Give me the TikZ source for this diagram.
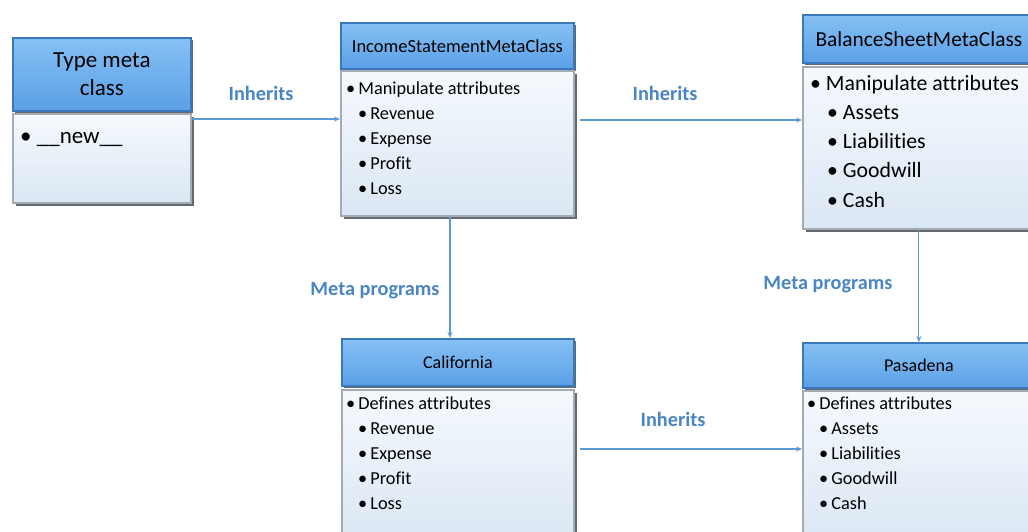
\documentclass[tikz,border=0pt]{standalone}
\usepackage{fontspec}
\setmainfont{Carlito}[Ligatures=NoCommon]
\usetikzlibrary{arrows.meta,shadows,calc}
\definecolor{hdrtop}{HTML}{86C0F4}
\definecolor{hdrbot}{HTML}{5AA0E6}
\definecolor{hdrline}{HTML}{3A78B9}
\definecolor{bodytop}{HTML}{F5F9FD}
\definecolor{bodybot}{HTML}{DBE7F4}
\definecolor{bodyline}{HTML}{A3ABB4}
\definecolor{arrcol}{HTML}{5B9BD5}
\definecolor{lblcol}{HTML}{4A86C4}
\definecolor{shadcol}{HTML}{55595E}
\tikzset{
  hdr/.style={draw=hdrline, line width=1.8pt, top color=hdrtop, bottom color=hdrbot,
    anchor=north west, inner sep=0pt, align=center, text=black,
    drop shadow={shadow xshift=2.5pt, shadow yshift=-2.5pt, fill=shadcol, opacity=0.9}},
  bodybox/.style={draw=bodyline, line width=1.8pt, top color=bodytop, bottom color=bodybot,
    anchor=north west, inner sep=0pt,
    drop shadow={shadow xshift=3pt, shadow yshift=-3pt, fill=shadcol, opacity=0.9}},
  bodytext/.style={anchor=north west, inner sep=0pt, align=left, text=black},
  arr/.style={draw=arrcol, line width=1.1pt, -{Stealth[length=6pt,width=5pt]}},
  lbl/.style={text=lblcol, font=\fontsize{20.3}{22}\selectfont\bfseries, inner sep=0pt}
}
\begin{document}
\begin{tikzpicture}[x=1pt,y=-1pt]
\useasboundingbox (0,0) rectangle (1028,531);
\fill[white] (0,0) rectangle (1028,531);

% Type meta class
\node[hdr, minimum width=178pt, minimum height=73pt, font=\fontsize{23}{28}\selectfont] (thdr) at (12,37) {Type meta\\class};
\node[bodybox, minimum width=178pt, minimum height=89pt] (tbody) at (12,113) {};
\node[bodytext, font=\fontsize{23}{28}\selectfont] (ttxt) at ($(tbody.north west)+(8,19)$) {•\ \_\_new\_\_};

% IncomeStatementMetaClass
\node[hdr, minimum width=233pt, minimum height=46pt, font=\fontsize{18.5}{22}\selectfont] (ihdr) at (340,22) {IncomeStatementMetaClass};
\node[bodybox, minimum width=233pt, minimum height=145pt] (ibody) at (340,70) {};
\node[bodytext, font=\fontsize{18.3}{25}\selectfont] (itxt) at ($(ibody.north west)+(6,12)$)
 {•\,Manipulate attributes\\\hspace*{12pt}•\,Revenue\\\hspace*{12pt}•\,Expense\\\hspace*{12pt}•\,Profit\\\hspace*{12pt}•\,Loss};

% BalanceSheetMetaClass
\node[hdr, minimum width=232pt, minimum height=48pt, font=\fontsize{21.4}{24}\selectfont] (bhdr) at (802,14) {BalanceSheetMetaClass};
\node[bodybox, minimum width=232pt, minimum height=162pt] (bbody) at (802,66) {};
\node[bodytext, font=\fontsize{21.8}{29.2}\selectfont] (btxt) at ($(bbody.north west)+(8,9)$)
 {•\ Manipulate attributes\\\hspace*{17pt}•\ Assets\\\hspace*{17pt}•\ Liabilities\\\hspace*{17pt}•\ Goodwill\\\hspace*{17pt}•\ Cash};

% California
\node[hdr, minimum width=232pt, minimum height=47pt, font=\fontsize{18}{22}\selectfont] (chdr) at (341,338) {California};
\node[bodybox, minimum width=232pt, minimum height=150pt] (cbody) at (341,389) {};
\node[bodytext, font=\fontsize{18.3}{25}\selectfont] (ctxt) at ($(cbody.north west)+(5,8)$)
 {•\,Defines attributes\\\hspace*{12pt}•\,Revenue\\\hspace*{12pt}•\,Expense\\\hspace*{12pt}•\,Profit\\\hspace*{12pt}•\,Loss};

% Pasadena
\node[hdr, minimum width=232pt, minimum height=45pt, font=\fontsize{18}{22}\selectfont] (phdr) at (802,342) {Pasadena};
\node[bodybox, minimum width=232pt, minimum height=150pt] (pbody) at (802,390) {};
\node[bodytext, font=\fontsize{18.3}{25}\selectfont] (ptxt) at ($(pbody.north west)+(5,7)$)
 {•\,Defines attributes\\\hspace*{12pt}•\,Assets\\\hspace*{12pt}•\,Liabilities\\\hspace*{12pt}•\,Goodwill\\\hspace*{12pt}•\,Cash};

% connectors
\coordinate (r1) at (0,119);
\coordinate (r2) at (0,120);
\coordinate (r3) at (0,449);
\coordinate (c1) at (450,0);
\draw[arr] (tbody.east |- r1) -- (ibody.west |- r1);
\draw[arr] ($(ibody.east |- r2)+(5,0)$) -- (bbody.west |- r2);
\draw[arr] (ibody.south -| c1) -- (chdr.north -| c1);
\draw[arr] (bbody.south -| pbody.north) -- (phdr.north);
\draw[arr] ($(cbody.east |- r3)+(5,0)$) -- (pbody.west |- r3);

% labels
\node[lbl] (l1) at (261,93) {Inherits};
\node[lbl] (l2) at (665,93) {Inherits};
\node[lbl] (l3) at (673,419) {Inherits};
\node[lbl] (l4) at (375,291) {Meta programs};
\node[lbl] (l5) at (828,285) {Meta programs};
\end{tikzpicture}
\end{document}
